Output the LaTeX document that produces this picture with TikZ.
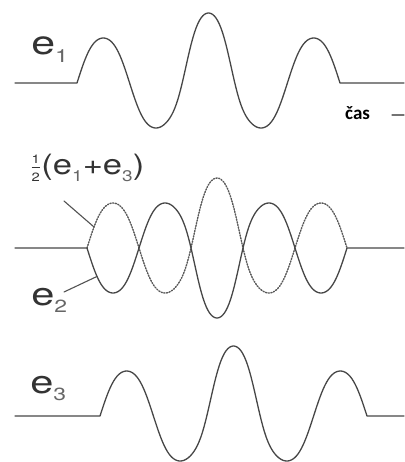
\documentclass[tikz,border=0pt]{standalone}
\usepackage{graphicx}
\usepackage{fontspec}
\setmainfont{TeX Gyre Heros}
\newfontfamily\casfont{Carlito}
\tikzset{
  declare function={env(\u)=45+25*exp(-((\u-0.5)/0.12)^4);
    lobe(\u)=(sin(900*\u)+0.04*sin(2700*\u))/0.96;
    wave(\u)=env(\u)*lobe(\u);},
  sig/.style={line width=1.3pt,draw=black!72},
  sumsig/.style={line width=1.4pt,draw=black!65,dash pattern=on 1.2pt off 1.5pt},
  leader/.style={line width=1.1pt,draw=black!68},
  lbl/.style={inner sep=0pt,anchor=base west,text=black!80,xscale=1.3},
}
\newcommand{\esub}[1]{e\raisebox{-0.24em}{\scalebox{0.55}{\color{black!60}#1}}}
\newcommand{\halfsym}{\raisebox{0.07em}{$\frac{\hbox{\fontsize{12}{12}\selectfont 1}}{\hbox{\fontsize{12}{12}\selectfont 2}}$}}
\begin{document}
\begin{tikzpicture}[x=1pt,y=-1pt,line cap=round,line join=round]
  \useasboundingbox (0,0) rectangle (404,462);
  % e1 and e3
  \foreach \sa/\sb/\yb in {77/340/83,100/367/416}
    \draw[sig] (15,\yb) -- (\sa,\yb) -- plot[domain=\sa:\sb,samples=160] (\x,{\yb-wave((\x-\sa)/(\sb-\sa))}) -- (404,\yb);
  % middle row
  \draw[sumsig] plot[domain=87:347,samples=160] (\x,{248-wave((\x-87)/260)});
  \draw[sig] (15,248) -- (87,248) -- plot[domain=87:347,samples=160] (\x,{248+wave((\x-87)/260)}) -- (404,248);
  % labels
  \node[lbl,font=\fontsize{33}{33}\selectfont] (eone) at (31,55) {\esub{1}};
  \node[lbl,font=\fontsize{28}{28}\selectfont,xscale=0.95] (sumlbl) at (30,175) {\halfsym(\esub{1}+\esub{3})};
  \node[lbl,font=\fontsize{32}{32}\selectfont] (etwo) at (31,305) {\esub{2}};
  \node[lbl,font=\fontsize{32}{32}\selectfont] (ethree) at (30,393) {\esub{3}};
  \node[anchor=base west,inner sep=0pt,font=\casfont\bfseries\fontsize{19}{19}\selectfont] (caslbl) at (345,120) {čas};
  % leaders
  \coordinate (sumfoot) at (64,201);
  \coordinate (sumtip) at (94,{248-wave(7/260)});
  \coordinate (etwofoot) at (64,292);
  \coordinate (etwotip) at (97,{248+wave(10/260)});
  \draw[leader] (sumfoot) -- (sumtip);
  \draw[leader] (etwofoot) -- (etwotip);
  \coordinate (casdash) at (392,115);
  \coordinate (casend) at (404,115);
  \draw[leader,draw=black!55] (casdash) -- (casend);
\end{tikzpicture}
\end{document}
